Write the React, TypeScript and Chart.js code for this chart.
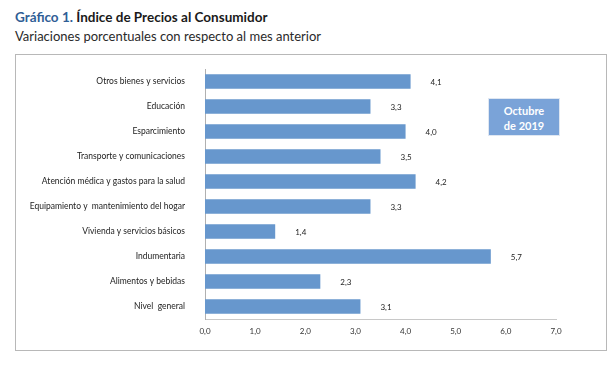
import React, { useEffect, useRef } from "react";
import { Chart, registerables } from "chart.js";

Chart.register(...registerables);

const categories = [
  "Otros bienes y servicios",
  "Educación",
  "Esparcimiento",
  "Transporte y comunicaciones",
  "Atención médica y gastos para la salud",
  "Equipamiento y  mantenimiento del hogar",
  "Vivienda y servicios básicos",
  "Indumentaria",
  "Alimentos y bebidas",
  "Nivel  general",
];
const values = [4.1, 3.3, 4.0, 3.5, 4.2, 3.3, 1.4, 5.7, 2.3, 3.1];
const xTicks = [0, 1, 2, 3, 4, 5, 6, 7];

const FONT = "Lato, 'Open Sans', sans-serif";

const valueLabels = {
  id: "valueLabels",
  afterDatasetsDraw(chart: any) {
    const ctx = chart.ctx;
    const meta = chart.getDatasetMeta(0);
    ctx.save();
    ctx.font = `8px ${FONT}`;
    ctx.fillStyle = "#222";
    ctx.textBaseline = "middle";
    ctx.textAlign = "left";
    meta.data.forEach((bar: any, i: number) => {
      const v = values[i];
      ctx.fillText(v.toFixed(1).replace(".", ","), bar.x + 20, bar.y + 1);
    });
    ctx.restore();
  },
};

export default function App() {
  const ref = useRef<HTMLCanvasElement | null>(null);
  useEffect(() => {
    if (!ref.current) return;
    const chart = new Chart(ref.current, {
      type: "bar",
      data: {
        labels: categories,
        datasets: [
          {
            data: values,
            backgroundColor: "#6797cd",
            barPercentage: 0.58,
            categoryPercentage: 1,
          },
        ],
      },
      options: {
        indexAxis: "y",
        animation: false,
        responsive: false,
        maintainAspectRatio: false,
        layout: { padding: { top: 14, right: 51, left: 0, bottom: 0 } },
        plugins: { legend: { display: false }, tooltip: { enabled: false } },
        scales: {
          x: {
            min: 0,
            max: 7,
            afterBuildTicks(scale: any) {
              scale.ticks = xTicks.map((v) => ({ value: v }));
            },
            afterFit(scale: any) {
              scale.height = 32;
            },
            grid: { display: false, drawTicks: false },
            border: { display: true, color: "#c8c8c8", width: 1 },
            ticks: {
              padding: 8,
              color: "#333",
              font: { family: FONT, size: 8 },
              callback: (v: any) => Number(v).toFixed(1).replace(".", ","),
            },
          },
          y: {
            afterFit(scale: any) {
              scale.width = 189;
              scale.paddingTop = 0;
              scale.paddingBottom = 0;
            },
            grid: { display: false, drawTicks: false },
            border: { display: true, color: "#b0b0b0", width: 1 },
            ticks: {
              padding: 20,
              color: "#222",
              font: { family: FONT, size: 8.5 },
              autoSkip: false,
            },
          },
        },
      },
      plugins: [valueLabels],
    });
    return () => chart.destroy();
  }, []);

  return (
    <div
      style={{
        position: "absolute",
        left: 0,
        top: 0,
        width: 614,
        height: 378,
        background: "#fff",
        fontFamily: FONT,
      }}
    >
      <div
        style={{
          position: "absolute",
          left: 15,
          top: 9,
          fontSize: 13.5,
          fontWeight: 700,
          color: "#1a1a1a",
          whiteSpace: "nowrap",
        }}
      >
        <span style={{ color: "#2f5e96" }}>Gráfico 1.</span> Índice de Precios al Consumidor
      </div>
      <div
        style={{
          position: "absolute",
          left: 15,
          top: 28,
          fontSize: 13,
          color: "#2a2a2a",
          whiteSpace: "nowrap",
        }}
      >
        Variaciones porcentuales con respecto al mes anterior
      </div>
      <div
        style={{
          position: "absolute",
          left: 15,
          top: 54,
          width: 592,
          height: 297,
          border: "1px solid #b8b8b8",
          boxSizing: "border-box",
        }}
      />
      <canvas
        ref={ref}
        width={591}
        height={296}
        style={{ position: "absolute", left: 16, top: 55, width: 591, height: 296 }}
      />
      <div
        style={{
          position: "absolute",
          left: 488,
          top: 98,
          width: 72,
          height: 38,
          background: "#7aa3d8",
          border: "1px solid #dfe7f2",
          boxSizing: "border-box",
          color: "#fff",
          fontWeight: 700,
          fontSize: 11,
          lineHeight: "15px",
          textAlign: "center",
          paddingTop: 4,
        }}
      >
        Octubre
        <br />
        de 2019
      </div>
    </div>
  );
}
